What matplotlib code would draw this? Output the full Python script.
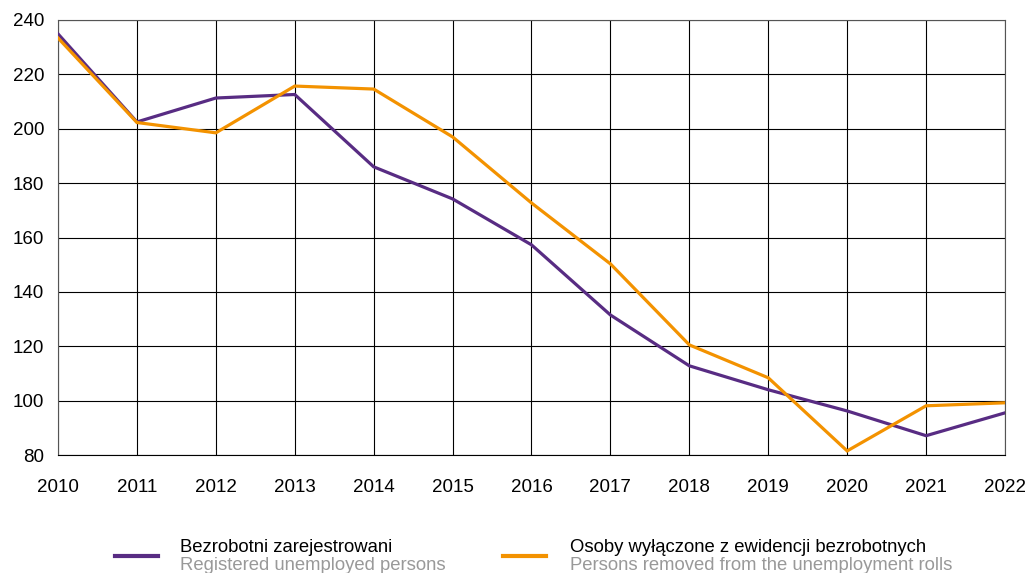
import numpy as np
import matplotlib.pyplot as plt
from matplotlib.lines import Line2D

plt.rcParams['font.family'] = ['Liberation Sans', 'DejaVu Sans']

years = list(range(2010, 2023))
registered = [234.9, 202.5, 211.3, 212.6, 186.0, 174.2, 157.3, 131.5, 112.8, 104.0, 96.2, 87.1, 95.5]
removed = [233.4, 202.3, 198.5, 215.7, 214.6, 197.0, 172.7, 150.3, 120.5, 108.4, 81.5, 98.1, 99.2]

purple = '#582C83'
orange = '#F39200'

fig = plt.figure(figsize=(10.28, 5.73), dpi=100)
ax = fig.add_axes([58/1028, 1 - 455/573, (1005 - 58)/1028, (455 - 20)/573])

ax.plot(years, registered, color=purple, lw=2.3, solid_joinstyle='miter', zorder=3)
ax.plot(years, removed, color=orange, lw=2.3, solid_joinstyle='miter', zorder=3)

ax.set_xlim(2010, 2022)
ax.set_ylim(80, 240)
ax.set_xticks(years)
ax.set_yticks(range(80, 241, 20))
ax.grid(True, color='black', lw=0.8)
for s in ax.spines.values():
    s.set_color('#555555')
    s.set_linewidth(0.8)
ax.spines['bottom'].set_color('black')
ax.tick_params(length=0, labelsize=13.5)
ax.tick_params(axis='y', pad=10)
ax.tick_params(axis='x', pad=17)

# legend drawn by hand (two-line labels)
items = [(115, 180, purple, 'Bezrobotni zarejestrowani', 'Registered unemployed persons'),
         (503, 570, orange, 'Osoby wyłączone z ewidencji bezrobotnych', 'Persons removed from the unemployment rolls')]
for x0, xt, col, pl, en in items:
    y = 1 - 556/573
    fig.add_artist(Line2D([x0/1028, (x0 + 43)/1028], [y, y], color=col, lw=3, transform=fig.transFigure))
    fig.text(xt/1028, 1 - 547/573, pl, fontsize=13.3, color='black', va='center')
    fig.text(xt/1028, 1 - 566/573, en, fontsize=13.3, color='#999999', va='center')

fig.savefig('out.png', dpi=100)
